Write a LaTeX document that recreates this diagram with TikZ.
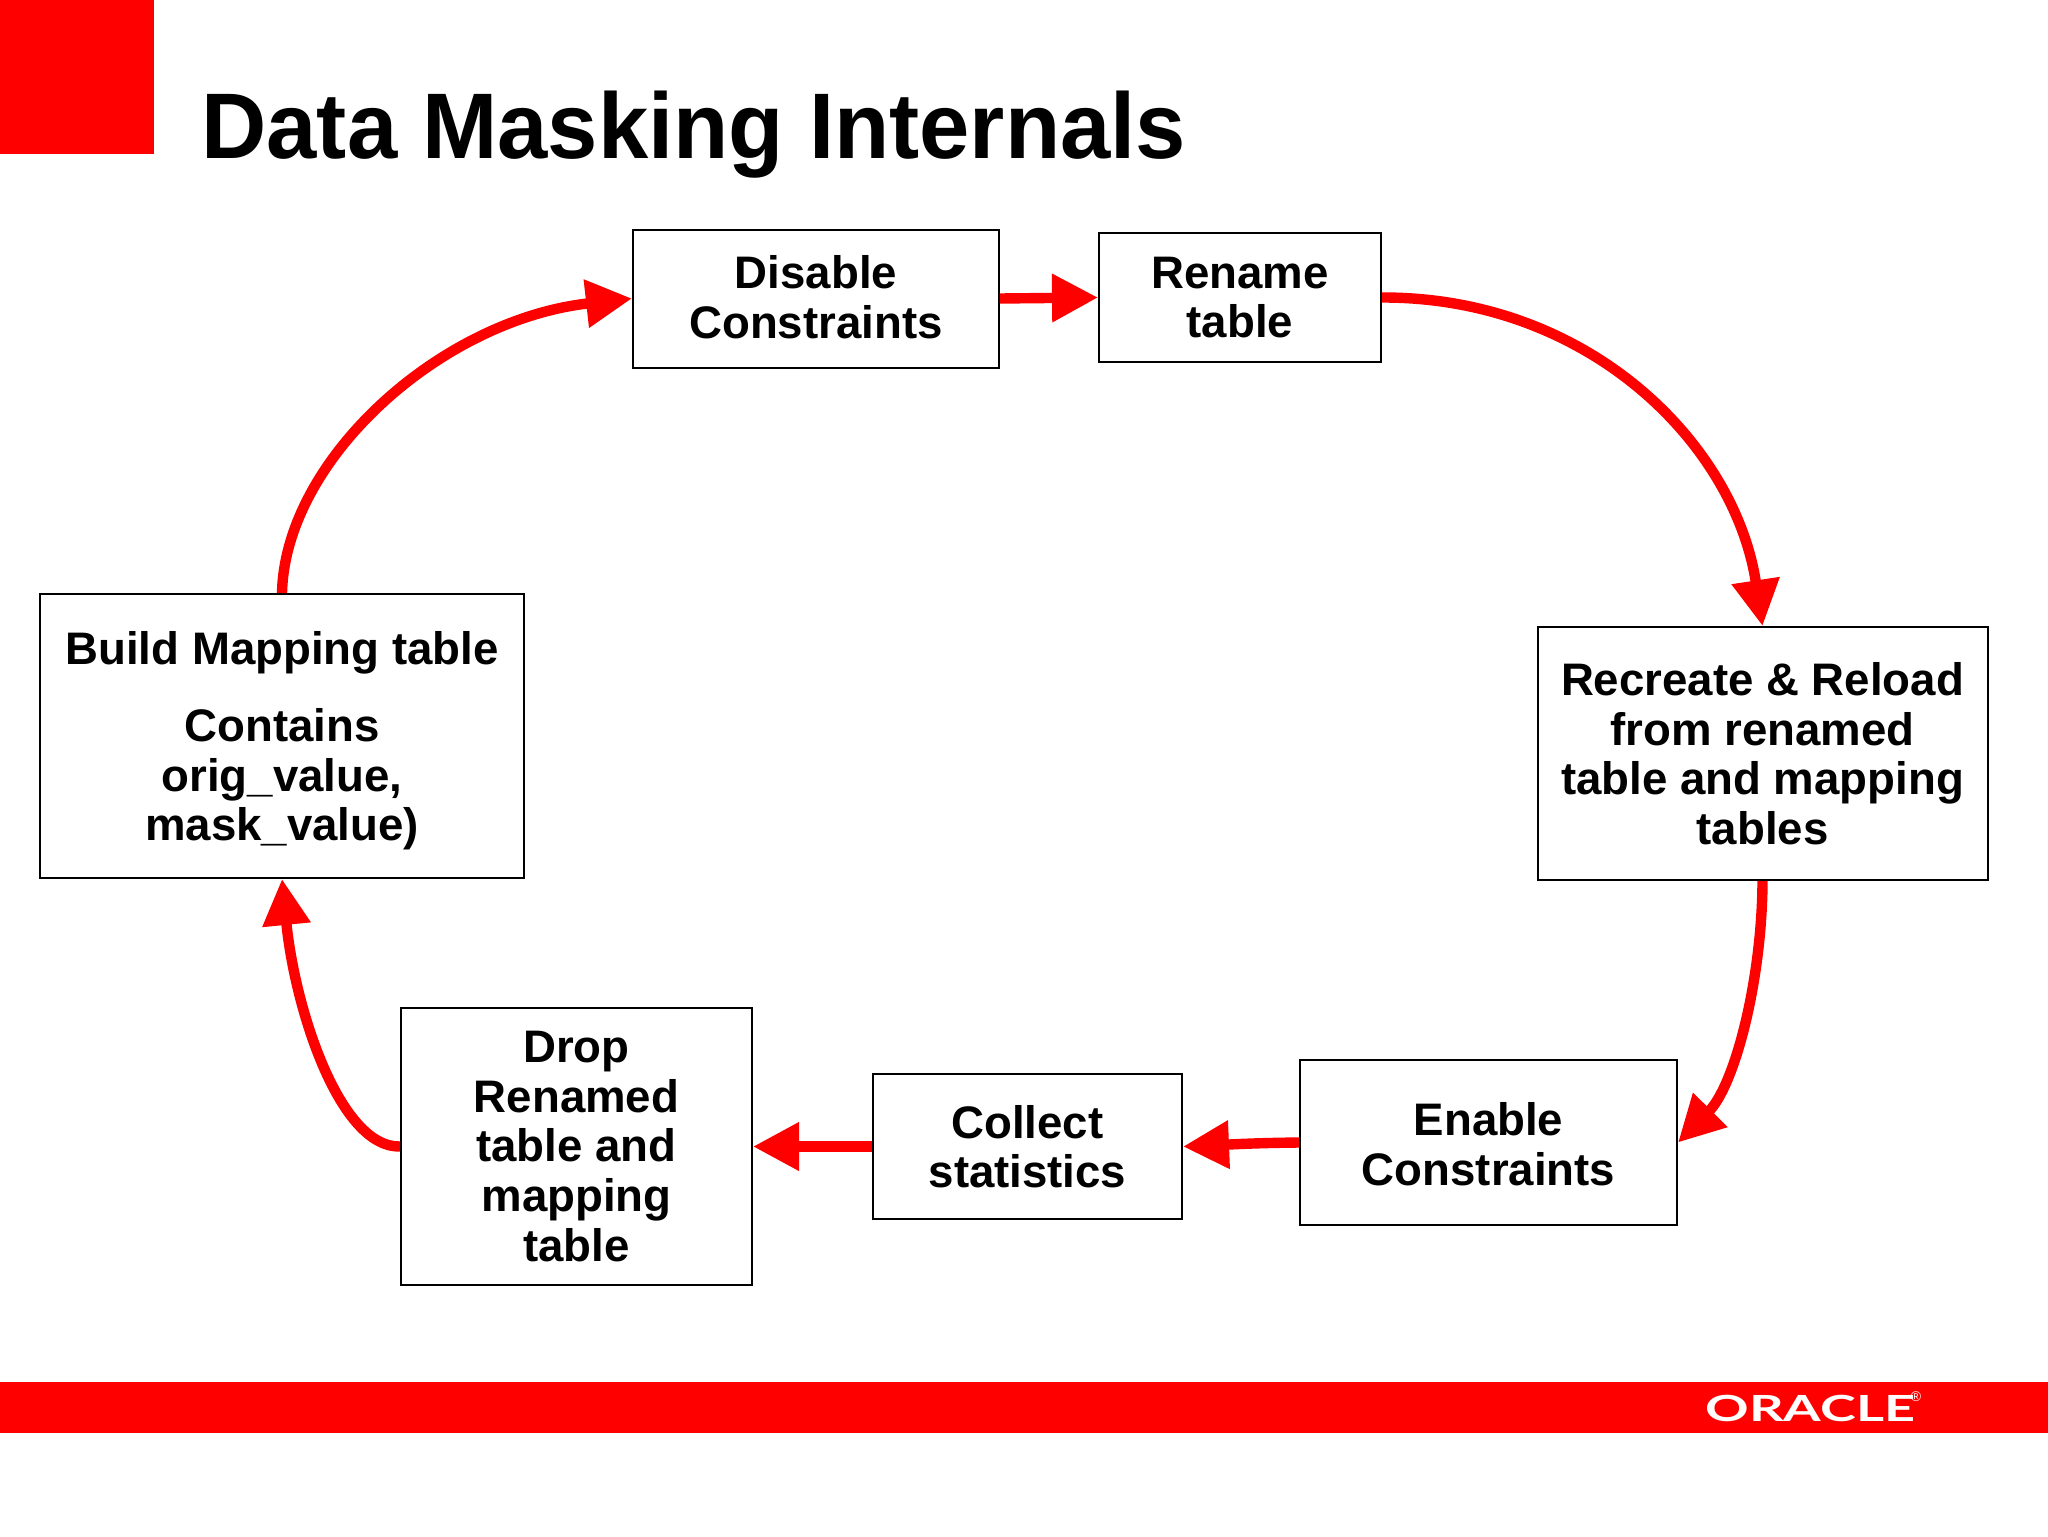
\documentclass[tikz,border=0pt]{standalone}
\usepackage{fontspec}
\setmainfont{Liberation Sans}
\newfontfamily\logofont{Lato}
\usetikzlibrary{arrows.meta}
\definecolor{orared}{RGB}{255,0,0}
\tikzset{
  stepbox/.style={draw=black,line width=1pt,fill=white,inner sep=0pt,align=center,
    font=\fontsize{22.8}{24.8}\selectfont\bfseries},
  flow/.style={draw=orared,line width=5.2pt,-{Triangle[length=23pt,width=23pt,fill=orared]},shorten >=0pt},
  block/.style={fill=orared,draw=none}
}
\begin{document}
\begin{tikzpicture}[x=0.5pt,y=-0.5pt]
\useasboundingbox (0,0) rectangle (2048,1536);
\fill[block] (0,0) rectangle (154,154);
\fill[block] (0,1382) rectangle (2048,1433);
\node[anchor=base west,inner sep=0pt,xscale=0.97,font=\fontsize{46.6}{50}\selectfont\bfseries] (title) at (201,158) {Data Masking Internals};
\node[stepbox,minimum width=183pt,minimum height=69pt] (ds) at (816,298.5) {Disable\\Constraints\rule[-1.3pt]{0pt}{1.3pt}};
\node[stepbox,minimum width=141pt,minimum height=64.5pt] (rn) at (1240,297.5) {Rename\\table};
\node[stepbox,minimum width=225pt,minimum height=126.5pt] (rc) at (1762.5,753.5) {Recreate \& Reload\\from renamed\\table and mapping\\tables};
\node[stepbox,minimum width=188.5pt,minimum height=82.5pt] (en) at (1488.5,1142.5) {\rule{0pt}{18.5pt}Enable\\Constraints};
\node[stepbox,minimum width=154.5pt,minimum height=72.5pt] (cs) at (1027.5,1146.5) {Collect\\statistics};
\node[stepbox,minimum width=175.5pt,minimum height=138.5pt] (dr) at (576.5,1146.5) {Drop\\Renamed\\table and\\mapping\\table};
\node[stepbox,minimum width=242pt,minimum height=142pt] (bm) at (282,736) {\rule{0pt}{21.5pt}Build Mapping table\\[13.7pt]Contains\\orig\_value,\\mask\_value)};
\draw[flow] (ds.east) -- (rn.west);
\draw[flow] (rn.east) .. controls (1590,297) and (1735,445) .. (rc.north);
\draw[flow] (rc.south) .. controls (1762,980) and (1735,1085) .. (en.east);
\draw[flow] (en.west) .. controls (1250,1143) and (1220,1145) .. (cs.east);
\draw[flow] (cs.west) -- (dr.east);
\draw[flow] (dr.west) .. controls (340,1148) and (295,1010) .. (bm.south);
\draw[flow] (bm.north) .. controls (285,460) and (440,320) .. (ds.west);
\node[inner sep=0pt,text=white,anchor=base west,xscale=1.5,font=\logofont\bfseries\fontsize{18}{18}\selectfont] (logo) at (1705,1421) {ORACLE};
\node[inner sep=0pt,text=white,anchor=center,font=\fontsize{7}{8}\selectfont] (reg) at (1916,1397) {®};
\end{tikzpicture}
\end{document}
